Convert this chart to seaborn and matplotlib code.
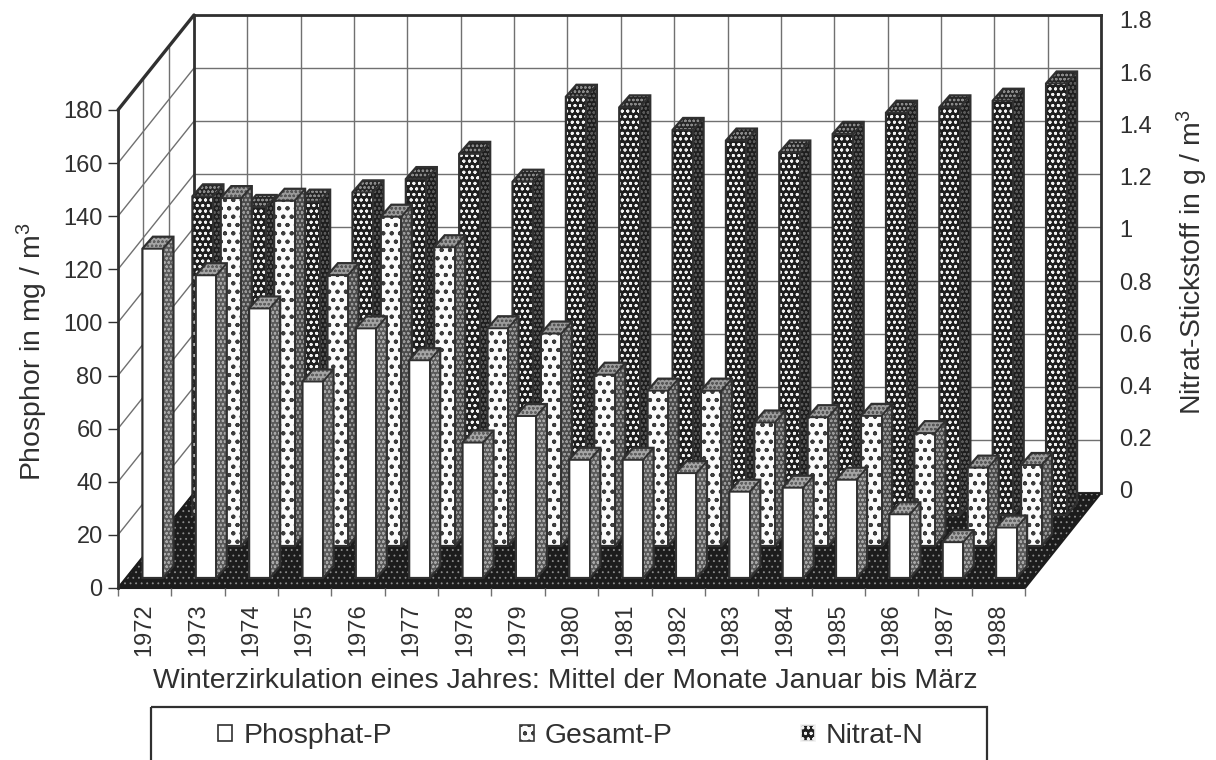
import matplotlib

matplotlib.use("Agg")
import matplotlib.pyplot as plt
import numpy as np
import pandas as pd
import seaborn as sns
from matplotlib.lines import Line2D
from matplotlib.patches import Patch, Polygon, Rectangle
from matplotlib.transforms import IdentityTransform

years = [str(y) for y in range(1972, 1989)]
phosphat = [124, 114, 101.5, 74, 94, 82, 51, 61, 44.5, 44.5, 39.5, 32.5, 34, 37, 24, 13.5, 19]
gesamt = [np.nan, 131, 130, 102, 124, 112.5, 82, 80, 64.5, 58.5, 58.5, 46.5, 48.5, 49, 42.5, 29.5, 30.5]
nitrat = [1.2, 1.16, 1.18, 1.215, 1.265, 1.36, 1.255, 1.575, 1.535, 1.45, 1.41, 1.365, 1.435, 1.515, 1.535, 1.56, 1.625]
left_ticks = list(range(0, 200, 20))
right_ticks = [0, 0.2, 0.4, 0.6, 0.8, 1, 1.2, 1.4, 1.6, 1.8]
right_labels = ["0", "0.2", "0.4", "0.6", "0.8", "1", "1.2", "1.4", "1.6", "1.8"]

sns.set_style("white")
plt.rcParams["font.family"] = ["Liberation Sans", "DejaVu Sans"]
plt.rcParams["mathtext.fontset"] = "custom"
plt.rcParams["mathtext.rm"] = "Liberation Sans"
plt.rcParams["mathtext.default"] = "rm"
plt.rcParams["hatch.linewidth"] = 0.6

INK = "#303030"
GRID = "#707070"
W, H = 1216, 760
TICK_FONT = 17
LABEL_FONT = 20.4

df = pd.DataFrame({"Jahr": years, "Phosphat": phosphat, "Gesamt": gesamt, "Nitrat": nitrat})

fig = plt.figure(figsize=(W / 100, H / 100), dpi=100, facecolor="white")


def box(x0, top, x1, bottom, z):
    # axes from picture pixels, y counted from the top
    ax = fig.add_axes([x0 / W, 1 - bottom / H, (x1 - x0) / W, (bottom - top) / H], zorder=z)
    ax.patch.set_alpha(0)
    return ax


# walls and floor, in picture pixels
base = box(0, 0, W, H, 0)
base.set_xlim(0, W)
base.set_ylim(H, 0)
base.axis("off")

FX0, FX1, FY0, FY1 = 118, 1025, 588, 110
DX, DY = 76, 95
floor = [(FX0, FY0), (FX1, FY0), (FX1 + DX, FY0 - DY), (FX0 + DX, FY0 - DY)]
base.add_patch(Polygon(floor, facecolor="#1c1c1c", edgecolor="#8c8c8c", lw=0, hatch="...", zorder=3))
base.add_patch(Polygon(floor, fill=False, edgecolor="#1c1c1c", lw=1.5, zorder=3))
for v in left_ticks[:-1]:
    y = FY0 - (FY0 - FY1) * v / 180
    base.add_line(Line2D([FX0, FX0 + DX], [y, y - DY], color=GRID, lw=1, zorder=1))
for k in (1, 2):
    x = FX0 + DX * k / 3
    base.add_line(Line2D([x, x], [FY1 - DY * k / 3, FY0 - DY * k / 3], color=GRID, lw=1, zorder=1))
base.add_line(Line2D([FX0, FX0 + DX], [FY1, FY1 - DY], color=INK, lw=2.4, zorder=2))

# back wall
back = box(FX0 + DX, FY1 - DY, FX1 + DX, FY0 - DY, 1)
back.set_xlim(-0.5, 16.5)
back.set_ylim(0, 180)
back.set_yticks(left_ticks)
back.set_xticks(np.arange(-0.5, 17, 1))
back.tick_params(left=False, bottom=False, labelleft=False, labelbottom=False)
back.grid(True, color=GRID, lw=1)
for s in ("left", "top", "right"):
    back.spines[s].set_visible(True)
    back.spines[s].set_color(INK)
    back.spines[s].set_linewidth(2)
back.spines["bottom"].set_visible(False)


def bars(col, limit, shift, z, face, hatch_col, hatch, side, side_hatch_col, top, top_hatch_col):
    dx, dy = shift
    ax = box(FX0 + dx, FY1 - dy, FX1 + dx, FY0 - dy, z)
    sns.barplot(data=df, x="Jahr", y=col, ax=ax, width=0.385, color=face, saturation=1, linewidth=0)
    ax.set_xlim(-0.5, 16.5)
    ax.set_ylim(0, limit)
    ax.axis("off")
    fig.canvas.draw()
    for p in list(ax.patches):
        if not p.get_height() > 0:
            continue
        x0, x1 = p.get_x(), p.get_x() + p.get_width()
        (ax0, ay0), (ax1, ay1) = ax.transData.transform([(x0, 0), (x1, p.get_height())])
        ddx, ddy = 10.5, 12
        kw = dict(transform=IdentityTransform(), clip_on=False, zorder=4)
        ax.add_patch(Polygon([(ax1, ay0), (ax1, ay1), (ax1 + ddx, ay1 + ddy), (ax1 + ddx, ay0 + ddy)],
                             facecolor=side, edgecolor=side_hatch_col, lw=0, hatch="oooo", **kw))
        ax.add_patch(Polygon([(ax0, ay1), (ax1, ay1), (ax1 + ddx, ay1 + ddy), (ax0 + ddx, ay1 + ddy)],
                             facecolor=top, edgecolor=top_hatch_col, lw=0, hatch="oooo", **kw))
        outline = [(ax0, ay0), (ax0, ay1), (ax0 + ddx, ay1 + ddy), (ax1 + ddx, ay1 + ddy),
                   (ax1 + ddx, ay0 + ddy), (ax1, ay0)]
        ax.add_patch(Polygon(outline, fill=False, edgecolor=INK, lw=1.6, **kw))
        ax.add_patch(Polygon([(ax0, ay1), (ax1, ay1), (ax1 + ddx, ay1 + ddy)], closed=False,
                             fill=False, edgecolor=INK, lw=1.4, **kw))
        ax.add_line(Line2D([ax1, ax1], [ay0, ay1], color=INK, lw=1.4, **kw))
        if hatch:
            p.set_edgecolor(hatch_col)
            p.set_hatch(hatch)
    return ax


bars("Nitrat", 1.8, (58, 73), 2, "#1e1e1e", "#f0f0f0", "ooo...", "#1e1e1e", "#5a5a5a", "#262626", "#8a8a8a")
bars("Gesamt", 180, (33, 42), 3, "#fbfbfb", "#3a3a3a", "oo..", "#4a4a4a", "#9a9a9a", "#9a9a9a", "#555555")
bars("Phosphat", 180, (8, 10), 4, "white", INK, "", "#5a5a5a", "#a8a8a8", "#a5a5a5", "#606060")

# front axis with the tick labels
front = box(FX0, FY1, FX1, FY0, 5)
front.set_xlim(-0.5, 16.5)
front.set_ylim(0, 180)
front.set_yticks(left_ticks)
front.tick_params(axis="y", left=True, length=7, width=1, color=INK, labelsize=TICK_FONT, labelcolor=INK, pad=4)
front.set_xticks(np.arange(-0.5, 17, 1))
front.set_xticklabels([])
front.tick_params(axis="x", which="major", bottom=True, length=6, width=1, color=GRID)
front.set_xticks(np.arange(17), labels=years, minor=True)
front.tick_params(axis="x", which="minor", bottom=False, labelsize=17, labelcolor=INK,
                  labelrotation=90, pad=9)
front.spines["left"].set_color(INK)
front.spines["left"].set_linewidth(2)
front.spines["left"].set_visible(True)
for s in ("top", "right", "bottom"):
    front.spines[s].set_visible(False)

# right axis for nitrate
right = box(FX1 + DX, 20, FX1 + DX + 1, 490, 6)
right.set_ylim(0, 1.8)
right.set_xticks([])
right.yaxis.tick_right()
right.set_yticks(right_ticks, labels=right_labels)
right.tick_params(axis="y", right=False, labelsize=TICK_FONT, labelcolor=INK, pad=9)
sns.despine(ax=right, left=True, bottom=True, right=True, top=True)

fig.text(32 / W, 1 - 352 / H, "Phosphor in mg / m$^3$", rotation=90, ha="center", va="center",
         fontsize=LABEL_FONT, color=INK)
fig.text(1192 / W, 1 - 262 / H, "Nitrat-Stickstoff in g / m$^3$", rotation=90, ha="center", va="center",
         fontsize=LABEL_FONT, color=INK)
fig.text(565 / W, 1 - 681 / H, "Winterzirkulation eines Jahres: Mittel der Monate Januar bis März",
         ha="center", va="center", fontsize=LABEL_FONT, color=INK)

# legend box runs off the bottom edge of the picture
base.add_patch(Rectangle((151, 707), 836, 70, fill=False, edgecolor=INK, lw=1.6, zorder=6))
handles = [
    Patch(facecolor="white", edgecolor=INK, lw=1.2, label="Phosphat-P"),
    Patch(facecolor="#fbfbfb", edgecolor="#3a3a3a", hatch="oo..", lw=1.2, label="Gesamt-P"),
    Patch(facecolor="#1e1e1e", edgecolor="#f0f0f0", hatch="ooo...", lw=1.2, label="Nitrat-N"),
]
leg = fig.legend(handles=handles, ncol=3, frameon=False, loc="upper left",
                 bbox_to_anchor=(218 / W, 1 - 723 / H), borderaxespad=0, borderpad=0,
                 prop={"size": LABEL_FONT}, labelcolor=INK, handlelength=0.5, handleheight=0.5,
                 handletextpad=0.4, columnspacing=4.5)
leg.set_zorder(7)

fig.savefig("out.png", dpi=100)
plt.close(fig)
